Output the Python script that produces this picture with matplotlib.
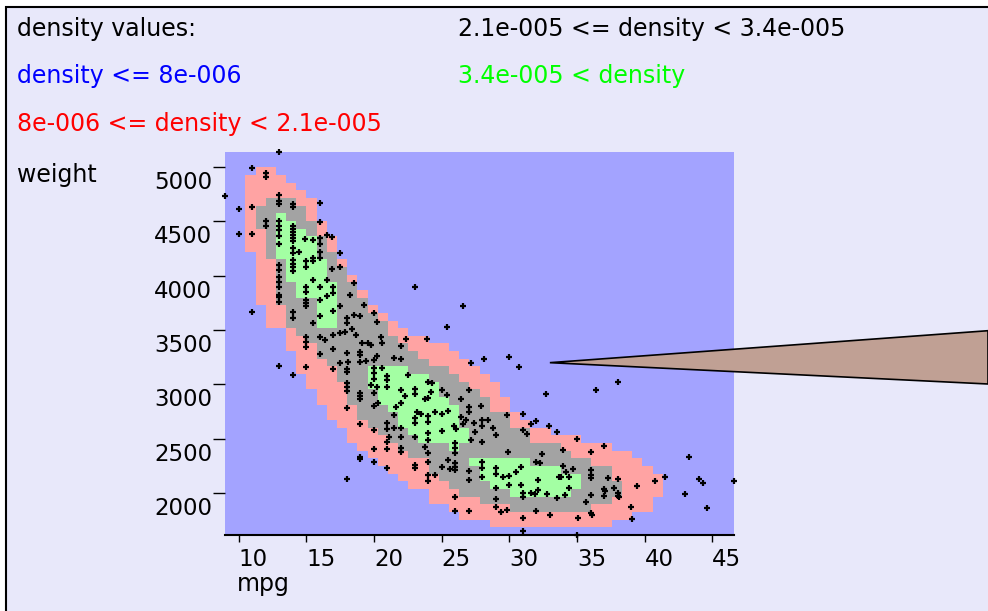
import numpy as np
import matplotlib
matplotlib.use("Agg")
import matplotlib.pyplot as plt
from matplotlib.colors import ListedColormap
from matplotlib.patches import Polygon, Rectangle
from matplotlib.transforms import ScaledTranslation

# kernel density grid: 50 x 50 cells spanning the data range
mpg_range = (9.0, 46.6)
weight_range = (1613, 5140)
n_grid = 50

# density class per grid column: first/last row index of each band
pink_start = 2
pink_lo = [37, 30, 27, 27, 24, 21, 19, 17, 15, 14, 12, 11, 10, 9, 8, 7, 6, 6, 4, 4, 3,
           2, 2, 2, 1, 1, 1, 1, 1, 1, 1, 1, 1, 1, 1, 1, 2, 2, 3, 3, 5]
pink_hi = [46, 47, 47, 46, 45, 44, 43, 40, 38, 35, 33, 31, 29, 28, 27, 26, 25, 25, 24, 24, 23,
           22, 21, 20, 19, 17, 15, 14, 13, 13, 12, 12, 12, 11, 11, 11, 10, 10, 9, 8, 7]
gray_start = 3
gray_lo = [40, 36, 30, 27, 26, 25, 23, 22, 20, 17, 15, 14, 13, 12, 11, 10, 10, 8, 7, 6, 5,
           5, 4, 4, 4, 3, 3, 3, 3, 3, 3, 3, 3, 4, 4, 5]
gray_hi = [42, 43, 43, 43, 42, 40, 38, 36, 34, 32, 30, 28, 27, 25, 24, 23, 22, 21, 21, 20, 19,
           18, 17, 15, 15, 13, 13, 11, 11, 11, 10, 9, 9, 8, 8, 6]
# green cells: (column, first row, last row)
green_runs = [(5, 36, 41), (6, 33, 40), (7, 31, 39), (8, 31, 38), (9, 27, 35), (10, 27, 32),
              (14, 19, 21), (15, 17, 21), (16, 16, 21), (17, 14, 21), (18, 13, 20),
              (19, 12, 20), (20, 12, 19), (21, 12, 17), (22, 11, 16), (23, 12, 13),
              (24, 9, 9), (25, 7, 9), (26, 6, 9), (27, 6, 9), (28, 5, 9), (29, 5, 9),
              (30, 5, 8), (31, 5, 8), (32, 5, 8), (33, 5, 7), (34, 6, 7)]

# observations
mpg = [13.0, 11.0, 12.0, 12.0, 9.0, 13.0, 13.0, 13.0, 14.0, 14.0, 16.0, 10.0, 11.0, 12.0, 12.0,
       13.0, 13.0, 13.0, 13.0, 13.0, 14.0, 14.0, 14.0, 14.0, 14.0, 14.0, 10.0, 11.0, 14.9, 15.5,
       16.0, 16.5, 16.9, 16.0, 16.0, 16.0, 16.0, 14.0, 14.0, 14.5, 15.0, 15.5, 15.5, 14.0, 14.0,
       14.0, 14.0, 15.0, 13.0, 13.0, 13.0, 13.0, 13.0, 13.0, 13.0, 13.0, 15.5, 16.0, 16.5, 17.0,
       17.0, 16.5, 16.0, 15.0, 15.0, 15.0, 15.0, 15.0, 17.5, 17.5, 16.9, 18.5, 18.2, 17.5, 19.3,
       20.0, 20.2, 18.5, 19.0, 18.0, 18.0, 17.0, 16.0, 14.0, 14.0, 15.5, 15.0, 15.0, 16.0, 16.4,
       17.0, 17.5, 17.9, 18.4, 18.7, 19.6, 20.5, 20.6, 11.0, 23.0,
       15.0, 17.0, 18.0, 18.1, 19.0, 19.0, 19.1, 19.8, 20.2, 21.5, 16.0, 17.5, 13.0, 14.0, 15.0,
       17.0, 18.0, 18.0, 19.0, 19.4, 20.0, 20.0, 20.6, 20.0, 20.0, 21.0, 21.0, 21.0, 19.8, 20.2,
       18.0, 18.0, 18.0, 19.0, 19.0, 19.0, 20.0, 20.3, 20.0, 21.6, 21.5, 18.0, 19.0, 20.0, 21.0,
       21.0, 21.5, 21.1, 21.0, 20.0, 21.0, 19.0, 19.0, 20.0, 21.0, 18.0,
       26.6, 25.4, 22.4, 23.9, 22.0, 22.0, 27.2, 28.1, 30.0, 30.7, 22.5, 24.0, 24.3, 22.0, 23.0,
       23.0, 22.3, 25.0, 25.4, 24.2, 23.8, 24.0, 27.0, 26.4, 27.9, 22.0, 27.0, 27.0, 23.2, 23.5,
       23.0, 23.0, 24.0, 24.0, 24.5, 25.0, 25.5, 26.4, 26.8, 26.6, 28.0, 28.0, 28.4, 27.4, 27.5,
       28.8, 29.0, 25.9, 26.1, 27.2, 28.0, 22.0, 23.0, 22.0, 22.0, 22.0, 24.0, 24.0, 25.0, 23.8,
       24.0, 26.0, 26.0, 29.8, 31.0, 32.0, 31.6, 32.9, 33.5, 31.0, 31.3, 32.7, 29.9, 32.4, 32.0,
       32.3, 24.0, 23.0, 23.0, 25.0, 24.5, 24.0, 24.0, 25.5, 26.0, 26.0, 26.0, 26.0, 27.0, 27.0,
       28.0, 28.0, 28.0, 29.0, 29.0, 29.5, 30.0, 30.5, 30.9, 29.0, 30.0, 31.0, 31.0, 31.6, 31.9,
       32.1, 32.8, 33.5, 33.8, 32.1, 30.9, 25.6, 26.0, 26.0, 27.0, 29.0, 29.0, 29.4, 29.8, 31.0,
       32.0, 33.0, 31.0,
       38.0, 36.4, 35.0, 34.0, 37.0, 36.0, 43.3, 34.0, 34.7, 34.2, 36.0, 36.0, 36.0, 37.3, 38.0,
       33.7, 34.4, 39.4, 40.8, 41.5, 44.0, 44.3, 46.6, 37.0, 37.1, 37.7, 38.0, 38.0, 38.1, 37.0,
       36.0, 34.4, 34.1, 35.7, 43.0, 44.6, 39.0, 39.1, 36.0, 36.1, 35.1, 35.0]
weight = [5140, 4997, 4951, 4906, 4732, 4744, 4692, 4658, 4658, 4636, 4667, 4615, 4636, 4505, 4458,
          4505, 4458, 4422, 4366, 4290, 4458, 4430, 4400, 4380, 4350, 4320, 4381, 4381, 4335, 4329,
          4498, 4376, 4354, 4345, 4290, 4222, 4160, 4253, 4207, 4216, 4136, 4160, 4136, 4145, 4110,
          4080, 4048, 4084, 4099, 4053, 3992, 3946, 3900, 3823, 3808, 3755, 3961, 3900, 3961, 3900,
          3838, 3817, 3777, 3893, 3853, 3777, 3745, 3720, 4213, 4078, 4062, 3937, 3823, 3725, 3731,
          3654, 3571, 3639, 3632, 3608, 3568, 3676, 3632, 3669, 3614, 3562, 3439, 3393, 3439, 3408,
          3455, 3470, 3485, 3507, 3451, 3384, 3433, 3378, 3663, 3900,
          3341, 3326, 3286, 3203, 3301, 3271, 3378, 3366, 3265, 3243, 3280, 3194, 3172, 3086, 3163,
          3142, 3142, 3117, 3209, 3215, 3225, 3151, 3151, 3102, 3047, 3077, 3040, 2979, 2994, 2979,
          3010, 2976, 2942, 2924, 2893, 2862, 2918, 2832, 2801, 2795, 2718, 2786, 2635, 2580, 2648,
          2586, 2601, 2519, 2473, 2408, 2408, 2334, 2313, 2282, 2227, 2126,
          3725, 3531, 3418, 3418, 3356, 3234, 3194, 3234, 3249, 3163, 3086, 3025, 3016, 2948, 2957,
          2908, 2893, 2948, 2902, 2927, 2862, 2871, 2948, 2868, 2801, 2825, 2795, 2748, 2745, 2727,
          2687, 2641, 2709, 2656, 2742, 2724, 2755, 2702, 2672, 2635, 2672, 2617, 2672, 2647, 2564,
          2601, 2534, 2617, 2586, 2488, 2466, 2598, 2512, 2518, 2411, 2380, 2549, 2488, 2574, 2426,
          2371, 2457, 2411, 2718, 2724, 2666, 2635, 2617, 2558, 2580, 2540, 2908, 2380, 2359, 2288,
          2273, 2282, 2257, 2227, 2242, 2165, 2165, 2110, 2303, 2273, 2242, 2211, 2365, 2202, 2119,
          2288, 2227, 2150, 2227, 2175, 2150, 2159, 2190, 2236, 2042, 2073, 1996, 1966, 2003, 1990,
          2027, 1990, 1950, 2150, 2119, 2073, 2217, 1966, 1834, 1837, 1941, 1874, 1828, 1843, 1772,
          1837, 1797, 1653,
          3019, 2948, 2497, 2396, 2436, 2374, 2334, 2248, 2218, 2196, 2211, 2166, 2135, 2135, 2129,
          2144, 2150, 2067, 2113, 2144, 2129, 2089, 2113, 2033, 2018, 2049, 1997, 1972, 1966, 1975,
          1981, 2049, 1981, 1914, 1990, 1858, 1874, 1757, 1819, 1797, 1766, 1613]

legend_items = [("density values:", "black"),
                ("density <= 8e-006", "#0000ff"),
                ("8e-006 <= density < 2.1e-005", "#ff0000"),
                ("2.1e-005 <= density < 3.4e-005", "black"),
                ("3.4e-005 < density", "#00ff00")]
callout_tip = (33.0, 3200)

band_colors = ["#a3a3ff", "#ffa3a3", "#a3a3a3", "#a3ffa3"]

# build the class grid (rows = weight, cols = mpg)
level = np.zeros((n_grid, n_grid), dtype=int)
for i, (lo, hi) in enumerate(zip(pink_lo, pink_hi)):
    level[lo:hi + 1, pink_start + i] = 1
for i, (lo, hi) in enumerate(zip(gray_lo, gray_hi)):
    level[lo:hi + 1, gray_start + i] = 2
for col, lo, hi in green_runs:
    level[lo:hi + 1, col] = 3

plt.rcParams['font.family'] = ['DejaVu Sans']
W, H = 988, 611
fig = plt.figure(figsize=(W / 100, H / 100), dpi=100, facecolor='white')

# lavender panel with black top/left border
fig.add_artist(Rectangle((6 / W, -0.1), 1.2, 1.1 - 7 / H, transform=fig.transFigure,
                         facecolor='#e8e8fa', edgecolor='black', lw=1.5, zorder=-5))

ax = fig.add_axes([225 / W, 76 / H, 509 / W, 383 / H])
x_edges = np.linspace(mpg_range[0], mpg_range[1], n_grid + 1)
y_edges = np.linspace(weight_range[0], weight_range[1], n_grid + 1)
ax.pcolormesh(x_edges, y_edges, level, cmap=ListedColormap(band_colors),
              vmin=-0.5, vmax=3.5, shading='flat')
ax.plot(mpg, weight, '+', color='black', ms=4.5, mew=1.6, clip_on=False, zorder=3)

ax.set_xlim(*mpg_range)
ax.set_ylim(*weight_range)
ax.set_xticks(range(10, 46, 5))
ax.set_yticks(range(2000, 5001, 500))
for side in ['left', 'top', 'right']:
    ax.spines[side].set_visible(False)
ax.spines['bottom'].set_linewidth(1.5)
ax.tick_params(axis='x', direction='out', length=5, width=1, pad=4, labelsize=16.5)
ax.tick_params(axis='y', direction='out', length=8.6, width=1, pad=0.5, labelsize=16.5)

for lab in ax.get_xticklabels():
    lab.set_horizontalalignment('left')
shift = ScaledTranslation(0, -0.04, fig.dpi_scale_trans)
for lab in ax.get_yticklabels():
    lab.set_verticalalignment('top')
    lab.set_transform(lab.get_transform() + shift)

# legend text, two columns
spots = [(17, 36), (17, 83), (17, 131), (458, 36), (458, 83)]
for (txt, col), (px, py) in zip(legend_items, spots):
    fig.text(px / W, 1 - py / H, txt, color=col, fontsize=17, va='baseline')
fig.text(17 / W, 1 - 182 / H, "weight", fontsize=17, va='baseline')
fig.text(237 / W, 1 - 591 / H, "mpg", fontsize=17, va='baseline')

# callout wedge pointing into the plot
tip = fig.transFigure.inverted().transform(ax.transData.transform(callout_tip))
fig.add_artist(Polygon([tip, (1.0, 1 - 330.7 / H), (1.0, 1 - 384 / H)], closed=True,
                       transform=fig.transFigure, facecolor='#c0a094',
                       edgecolor='black', lw=1.2, zorder=5))

fig.savefig('out.png', dpi=100)
